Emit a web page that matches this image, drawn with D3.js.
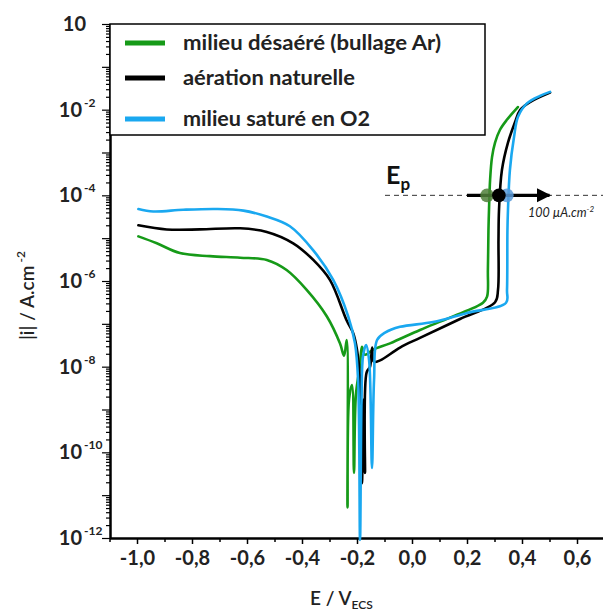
<!DOCTYPE html>
<html>
<head>
<meta charset="utf-8">
<script src="https://cdn.jsdelivr.net/npm/d3@7"></script>
<style>
  html, body { margin: 0; padding: 0; background: #fff; }
  svg { display: block; }
</style>
</head>
<body>
<svg id="chart" width="603" height="611"></svg>
<script>
// ---------- data ----------
const seriesNames = ["milieu désaéré (bullage Ar)", "aération naturelle", "milieu saturé en O2"];
const seriesColors = ["#169a18", "#000000", "#1aa8f0"];

const greenE = [-0.995,-0.928,-0.844,-0.735,-0.625,-0.528,-0.456,-0.383,-0.310,-0.262,-0.247,-0.2375,-0.2345,-0.229,-0.218,-0.211,-0.204,-0.189,-0.182,-0.171,-0.141,-0.080,0.029,0.138,0.258,0.273,0.276,0.278,0.280,0.284,0.291,0.302,0.320,0.345,0.385];
const greenI = [1.1e-5,7.6e-6,4.5e-6,3.8e-6,3.5e-6,3.1e-6,1.8e-6,6.2e-7,1.5e-7,3.5e-8,1.8e-8,4.2e-8,5.2e-12,1.7e-9,3.7e-9,3.3e-11,2.2e-9,1.1e-8,2.9e-8,1.9e-8,2.5e-8,3.5e-8,7.2e-8,1.4e-7,3.1e-7,4.3e-7,1.8e-6,1.5e-5,4.6e-5,2.3e-4,7.8e-4,1.7e-3,3.4e-3,5.8e-3,1.15e-2];

const blackE = [-0.995,-0.892,-0.771,-0.625,-0.528,-0.432,-0.359,-0.298,-0.2375,-0.2135,-0.200,-0.189,-0.182,-0.176,-0.171,-0.165,-0.153,-0.145,-0.1385,-0.116,-0.0436,0.029,0.1745,0.302,0.3127,0.3145,0.3164,0.327,0.349,0.3745,0.393,0.429,0.502];
const blackI = [2.0e-5,1.6e-5,1.6e-5,1.7e-5,1.4e-5,7.6e-6,3.1e-6,1.05e-6,1.2e-7,6.0e-8,2.5e-8,4.9e-9,1.9e-11,1.7e-9,3.3e-11,7.4e-9,9.8e-9,2.8e-8,1.3e-8,1.4e-8,2.8e-8,4.7e-8,1.3e-7,3.2e-7,6.2e-7,9.1e-6,4.6e-5,3.9e-4,1.7e-3,5.1e-3,9.8e-3,1.5e-2,2.5e-2];

const blueE = [-0.995,-0.941,-0.832,-0.710,-0.613,-0.528,-0.444,-0.359,-0.286,-0.232,-0.2073,-0.196,-0.189,-0.1836,-0.178,-0.167,-0.156,-0.1455,-0.138,-0.127,-0.098,-0.0436,0.0764,0.200,0.342,0.3455,0.347,0.349,0.356,0.371,0.3855,0.418,0.4655,0.502];
const blueI = [4.8e-5,4.2e-5,4.6e-5,4.8e-5,4.4e-5,3.2e-5,1.9e-5,5.2e-6,1.05e-6,1.5e-7,3.5e-8,4.9e-9,9e-13,1.7e-9,1.8e-8,3.2e-8,1.4e-8,4.3e-11,4.9e-9,4.2e-8,6.2e-8,8.5e-8,1.1e-7,1.8e-7,3.1e-7,6.2e-7,1.5e-5,4.6e-5,3.9e-4,2.3e-3,6.8e-3,1.4e-2,2.1e-2,2.6e-2];

const xTicks = [-1.0,-0.8,-0.6,-0.4,-0.2,0.0,0.2,0.4,0.6];
const yLabelExps = [0,-2,-4,-6,-8,-10,-12];
const epLevel = 1e-4;
const epPotentials = [0.273, 0.316, 0.345];
const epColors = ["#4f7f3a", "#000000", "#5b9ad8"];

// ---------- layout ----------
const svg = d3.select("#chart");
const x = d3.scaleLinear().domain([-1.1, 0.7]).range([109.5, 604.5]);
const y = d3.scaleLog().domain([1e-12, 1]).range([538, 24]);
const FONT = "Lato, 'Open Sans', sans-serif";
const legendWidths = [258, 172, 187];

// ---------- axes ----------
const decades = d3.range(-12, 1).map(p => Math.pow(10, p));
const minors = [];
for (let p = -12; p < 0; p++) for (let m = 2; m <= 9; m++) minors.push(m * Math.pow(10, p));

const yMinor = svg.append("g").attr("transform", "translate(110,0)")
  .call(d3.axisLeft(y).tickValues(minors).tickSize(4).tickSizeOuter(0).tickFormat(""));
const yMajor = svg.append("g").attr("transform", "translate(110,0)")
  .call(d3.axisLeft(y).tickValues(decades).tickSize(8).tickSizeOuter(0).tickFormat(""));
[yMinor, yMajor].forEach(g => {
  g.selectAll("line").attr("stroke", "#000").attr("stroke-width", 1.2);
  g.select(".domain").attr("stroke", "#000").attr("stroke-width", 2);
});

const xMinor = svg.append("g").attr("transform", "translate(0,538)")
  .call(d3.axisBottom(x).tickValues(d3.range(-11, 8, 2).map(v => v / 10)).tickSize(4).tickSizeOuter(0).tickFormat(""));
const xMajor = svg.append("g").attr("transform", "translate(0,538)")
  .call(d3.axisBottom(x).tickValues(xTicks).tickSize(6).tickSizeOuter(0)
    .tickFormat(d => d.toFixed(1).replace(".", ",")));
[xMinor, xMajor].forEach(g => {
  g.selectAll("line").attr("stroke", "#000").attr("stroke-width", 1.5);
  g.select(".domain").attr("stroke", "#000").attr("stroke-width", 2);
});
xMajor.selectAll("text")
  .attr("y", 13).attr("dy", "0.71em")
  .attr("font-family", FONT).attr("font-weight", "bold").attr("font-size", 20).attr("fill", "#222");

// y tick labels
yLabelExps.forEach(p => {
  const yy = y(Math.pow(10, p));
  if (p === 0) {
    svg.append("text").attr("x", 86).attr("y", yy).attr("dy", "0.35em").attr("text-anchor", "end")
      .attr("font-family", FONT).attr("font-weight", "bold").attr("font-size", 20).attr("fill", "#222").text("10");
  } else {
    svg.append("text").attr("x", 82).attr("y", yy).attr("dy", "0.35em").attr("text-anchor", "end")
      .attr("font-family", FONT).attr("font-weight", "bold").attr("font-size", 20).attr("fill", "#222").text("10");
    svg.append("text").attr("x", 84).attr("y", yy - 3).attr("text-anchor", "start")
      .attr("font-family", FONT).attr("font-weight", "bold").attr("font-size", 12).attr("fill", "#222").text(String(p));
  }
});

// axis titles
const xt = svg.append("text").attr("x", 310).attr("y", 605).attr("font-family", FONT)
  .attr("font-weight", 600).attr("font-size", 19).attr("fill", "#222");
xt.append("tspan").text("E / V");
xt.append("tspan").attr("font-size", 12).attr("dy", 4).text("ECS");

const yt = svg.append("text").attr("transform", "translate(34,340) rotate(-90)")
  .attr("font-family", FONT).attr("font-weight", 600).attr("font-size", 19).attr("fill", "#222");
yt.append("tspan").text("|i| / A.cm");
yt.append("tspan").attr("font-size", 12).attr("dy", -9).text(" -2");

// ---------- curves ----------
const line = d3.line().x(d => x(d[0])).y(d => y(d[1])).curve(d3.curveCatmullRom.alpha(0.5));
const series = [
  { E: greenE, I: greenI, color: seriesColors[0] },
  { E: blackE, I: blackI, color: seriesColors[1] },
  { E: blueE, I: blueI, color: seriesColors[2] }
];
series.forEach(s => {
  const pts = s.E.map((e, i) => [e, s.I[i]]);
  svg.append("path").attr("d", line(pts)).attr("fill", "none")
    .attr("stroke", s.color).attr("stroke-width", 2.6).attr("stroke-linejoin", "round").attr("stroke-linecap", "round");
});

// ---------- Ep annotation ----------
const ey = y(epLevel);
svg.append("line").attr("x1", 385).attr("x2", 603).attr("y1", ey).attr("y2", ey)
  .attr("stroke", "#333").attr("stroke-width", 1).attr("stroke-dasharray", "5,4");
svg.append("defs").append("marker").attr("id", "ah").attr("viewBox", "0 0 10 10")
  .attr("refX", 9).attr("refY", 5).attr("markerWidth", 4.5).attr("markerHeight", 4.5)
  .attr("markerUnits", "strokeWidth").attr("orient", "auto")
  .append("path").attr("d", "M0,0 L10,5 L0,10 Z").attr("fill", "#000");
svg.append("line").attr("x1", x(0.2)).attr("x2", x(0.5)).attr("y1", ey).attr("y2", ey)
  .attr("stroke", "#000").attr("stroke-width", 3.2).attr("marker-end", "url(#ah)");
[0, 2, 1].forEach(k => {
  svg.append("circle").attr("cx", x(epPotentials[k])).attr("cy", ey).attr("r", 6.8)
    .attr("fill", epColors[k]).attr("fill-opacity", k === 1 ? 1 : 0.85);
});
const ep = svg.append("text").attr("x", 386).attr("y", 184).attr("font-family", FONT)
  .attr("font-weight", "bold").attr("font-size", 25).attr("fill", "#111");
ep.append("tspan").text("E");
ep.append("tspan").attr("font-size", 17).attr("dy", 6).text("p");

const ua = svg.append("text").attr("x", 528).attr("y", 217).attr("font-family", FONT)
  .attr("font-style", "italic").attr("font-size", 12.5).attr("fill", "#222");
ua.append("tspan").text("100 µA.cm");
ua.append("tspan").attr("font-size", 8).attr("dy", -5).text("-2");

// ---------- legend ----------
svg.append("rect").attr("x", 110).attr("y", 24).attr("width", 375).attr("height", 111)
  .attr("fill", "#fff").attr("stroke", "#000").attr("stroke-width", 1.5);
const legendY = [43, 78, 119];
seriesNames.forEach((n, i) => {
  svg.append("line").attr("x1", 125).attr("x2", 165).attr("y1", legendY[i]).attr("y2", legendY[i])
    .attr("stroke", seriesColors[i]).attr("stroke-width", 5);
  svg.append("text").attr("x", 183).attr("y", legendY[i]).attr("dy", "0.35em")
    .attr("textLength", legendWidths[i]).attr("lengthAdjust", "spacingAndGlyphs")
    .attr("font-family", FONT).attr("font-weight", "bold").attr("font-size", 20).attr("fill", "#222").text(n);
});
</script>
</body>
</html>
